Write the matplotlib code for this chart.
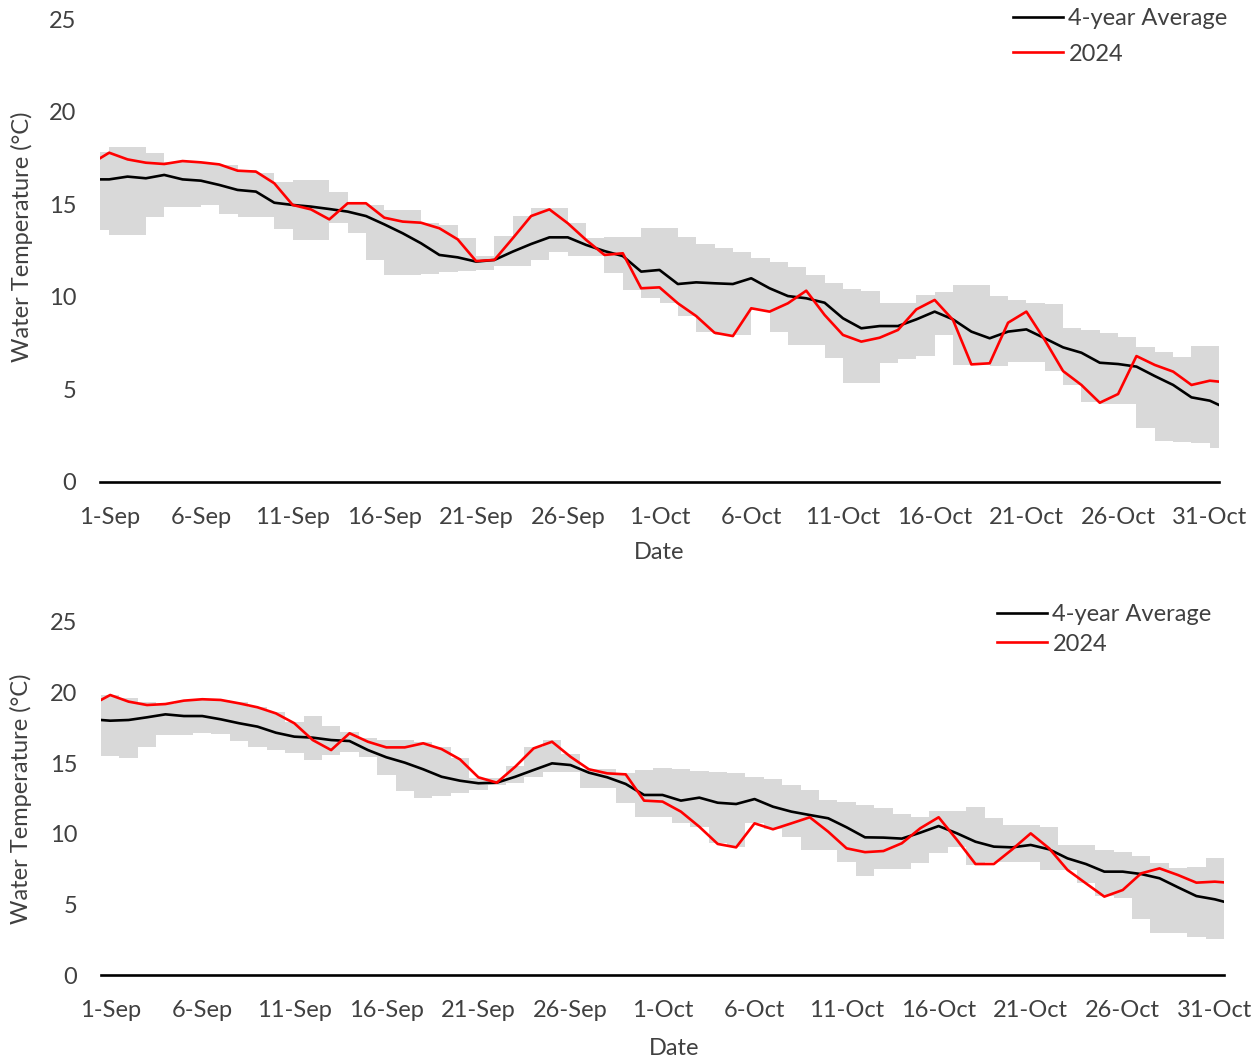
import numpy as np
import matplotlib
matplotlib.use("Agg")
import matplotlib.pyplot as plt

plt.rcParams["font.family"] = ["Lato", "DejaVu Sans"]

# day index: 0 = 1-Sep ... 60 = 31-Oct; -1 and 61 are neighbours clipped at the axis edges
days = np.arange(-1, 62)
tick_days = list(range(0, 61, 5))
tick_labels = ["1-Sep", "6-Sep", "11-Sep", "16-Sep", "21-Sep", "26-Sep", "1-Oct",
               "6-Oct", "11-Oct", "16-Oct", "21-Oct", "26-Oct", "31-Oct"]

# ---- upper site ----
avg_top = [16.34, 16.34, 16.49, 16.40, 16.58, 16.34, 16.27, 16.04, 15.77, 15.68, 15.08,
           14.96, 14.87, 14.74, 14.60, 14.36, 13.91, 13.43, 12.89, 12.26, 12.13, 11.90,
           11.99, 12.44, 12.85, 13.21, 13.21, 12.80, 12.47, 12.20, 11.36, 11.45, 10.69,
           10.78, 10.73, 10.69, 11.00, 10.46, 10.04, 9.92, 9.68, 8.84, 8.30, 8.42, 8.42,
           8.78, 9.20, 8.78, 8.12, 7.76, 8.12, 8.24, 7.76, 7.27, 6.98, 6.44, 6.37, 6.23,
           5.72, 5.24, 4.57, 4.39, 3.93]
y2024_top = [17.18, 17.78, 17.42, 17.24, 17.17, 17.33, 17.26, 17.15, 16.81, 16.76, 16.13,
             14.96, 14.72, 14.18, 15.05, 15.05, 14.27, 14.06, 14.00, 13.70, 13.10, 11.93,
             11.99, 13.16, 14.36, 14.72, 13.97, 13.07, 12.26, 12.35, 10.46, 10.51, 9.65,
             8.96, 8.06, 7.88, 9.38, 9.20, 9.65, 10.33, 9.02, 7.94, 7.58, 7.79, 8.21,
             9.32, 9.83, 8.75, 6.35, 6.41, 8.60, 9.20, 7.67, 5.99, 5.24, 4.28, 4.75, 6.80,
             6.32, 5.96, 5.24, 5.47, 5.37]
# range band, one step per day starting at day -1
band_days_top = np.arange(-1, 61)
band_hi_top = [17.8, 18.1, 18.1, 17.75, 17.3, 17.3, 17.25, 17.12, 16.85, 16.7, 16.2, 16.3,
               16.3, 15.68, 15.1, 14.96, 14.69, 14.69, 13.97, 13.88, 13.2, 12.2, 13.3,
               14.36, 14.78, 14.78, 13.97, 13.16, 13.25, 13.25, 13.7, 13.7, 13.25, 12.85,
               12.62, 12.44, 12.08, 11.9, 11.63, 11.18, 10.73, 10.4, 10.33, 9.68, 9.65,
               10.1, 10.28, 10.64, 10.64, 10.04, 9.83, 9.65, 9.59, 8.3, 8.21, 8.06, 7.85,
               7.31, 7.04, 6.73, 7.34, 7.34]
band_lo_top = [13.6, 13.34, 13.34, 14.29, 14.83, 14.83, 14.96, 14.47, 14.29, 14.29, 13.64,
               13.07, 13.07, 13.97, 13.46, 11.99, 11.18, 11.18, 11.23, 11.36, 11.41, 11.45,
               11.66, 11.66, 11.99, 12.44, 12.2, 12.2, 11.27, 10.37, 9.92, 9.65, 8.96, 8.12,
               7.94, 7.94, 9.29, 8.12, 7.4, 7.4, 6.68, 5.36, 5.36, 6.44, 6.62, 6.8, 7.94,
               6.32, 6.32, 6.26, 6.5, 6.5, 6.01, 5.24, 4.34, 4.21, 4.21, 2.9, 2.23, 2.18,
               2.09, 1.82]

# ---- lower site ----
avg_bot = [18.11, 18.01, 18.06, 18.25, 18.46, 18.34, 18.34, 18.11, 17.83, 17.59, 17.16,
           16.88, 16.81, 16.64, 16.57, 15.93, 15.42, 15.04, 14.57, 14.04, 13.76, 13.58,
           13.62, 14.04, 14.52, 14.99, 14.87, 14.33, 14.00, 13.53, 12.75, 12.75, 12.35,
           12.56, 12.20, 12.11, 12.46, 11.92, 11.57, 11.33, 11.10, 10.46, 9.75, 9.73,
           9.66, 10.08, 10.55, 10.03, 9.44, 9.09, 9.04, 9.21, 8.90, 8.26, 7.86, 7.32,
           7.32, 7.15, 6.85, 6.21, 5.59, 5.36, 5.02]
y2024_bot = [19.13, 19.83, 19.36, 19.12, 19.19, 19.43, 19.53, 19.48, 19.24, 18.96, 18.53,
             17.83, 16.64, 15.93, 17.12, 16.52, 16.12, 16.12, 16.41, 16.00, 15.27, 14.00,
             13.62, 14.75, 16.05, 16.52, 15.46, 14.57, 14.28, 14.21, 12.35, 12.28, 11.57,
             10.50, 9.28, 9.04, 10.74, 10.32, 10.74, 11.17, 10.15, 8.97, 8.70, 8.78, 9.33,
             10.39, 11.17, 9.56, 7.86, 7.86, 8.90, 10.03, 8.97, 7.44, 6.49, 5.55, 6.02,
             7.20, 7.55, 7.08, 6.54, 6.61, 6.51]
band_days_bot = np.arange(0, 61)
band_hi_bot = [19.8, 19.6, 19.3, 19.2, 19.4, 19.5, 19.5, 19.3, 19.0, 18.6, 17.9, 18.34,
               17.63, 17.23, 16.76, 16.64, 16.64, 16.52, 16.12, 15.34, 13.93, 13.93, 14.8,
               16.17, 16.64, 15.65, 14.57, 14.57, 14.28, 14.52, 14.64, 14.6, 14.47, 14.4,
               14.28, 14.04, 13.86, 13.46, 13.1, 12.39, 12.28, 12.04, 11.8, 11.4, 11.17,
               11.64, 11.64, 11.87, 11.1, 10.62, 10.62, 10.5, 9.21, 9.21, 8.85, 8.73, 8.43,
               7.95, 7.55, 7.67, 8.26]
band_lo_bot = [15.51, 15.34, 16.12, 17.0, 17.0, 17.12, 17.1, 16.6, 16.12, 15.93, 15.7,
               15.23, 15.58, 15.82, 15.42, 14.16, 13.05, 12.51, 12.68, 12.91, 13.1, 13.46,
               13.58, 14.04, 14.4, 14.4, 13.22, 13.22, 12.16, 11.21, 11.21, 10.74, 10.5,
               9.33, 9.04, 10.74, 10.32, 9.79, 8.85, 8.85, 8.02, 7.0, 7.48, 7.48, 7.91,
               8.62, 9.04, 7.79, 8.02, 8.02, 8.02, 7.44, 7.44, 6.49, 5.59, 5.43, 3.94, 3.0,
               3.0, 2.71, 2.53]

TEXT = "#404040"
FS = 17


def draw_panel(ax, band_days, lo, hi, align, avg, cur, legend_anchor, legend_spacing):
    lo = np.array(lo)
    hi = np.array(hi)
    ax.bar(band_days, hi - lo, bottom=lo, width=1.0, align=align,
           color="#d9d9d9", linewidth=0, zorder=1)
    ax.plot(days, avg, color="black", linewidth=1.9, label="4-year Average", zorder=3)
    ax.plot(days, cur, color="#ff0000", linewidth=1.9, label="2024", zorder=4)

    ax.set_xlim(-0.5, 60.5)
    ax.set_ylim(0, 25)
    ax.set_xticks(tick_days)
    ax.set_xticklabels(tick_labels)
    ax.set_yticks(range(0, 26, 5))
    for side in ("top", "right", "left"):
        ax.spines[side].set_visible(False)
    ax.spines["bottom"].set_linewidth(1.9)
    ax.spines["bottom"].set_color("black")
    ax.spines["bottom"].set_zorder(5)
    ax.tick_params(axis="both", length=0, labelsize=FS, labelcolor=TEXT)
    ax.tick_params(axis="x", pad=18)
    ax.tick_params(axis="y", pad=17)
    ax.set_xlabel("Date", fontsize=FS, color=TEXT)
    ax.set_ylabel("Water Temperature (°C)", fontsize=FS, color=TEXT)

    ax.legend(loc="upper left", bbox_to_anchor=legend_anchor,
              bbox_transform=ax.figure.transFigure, frameon=False, fontsize=FS,
              handlelength=2.1, handletextpad=0.25, labelspacing=legend_spacing,
              borderpad=0, borderaxespad=0, labelcolor=TEXT)


fig = plt.figure(figsize=(12.58, 10.63), dpi=100)
ax_top = fig.add_axes([100 / 1258, 1 - 482 / 1063, 1119 / 1258, 463 / 1063])
ax_bot = fig.add_axes([101 / 1258, 1 - 975 / 1063, 1123 / 1258, 353 / 1063])

draw_panel(ax_top, band_days_top, band_lo_top, band_hi_top, "edge",
           avg_top, y2024_top, (1013 / 1258, 1 - 8 / 1063), 0.62)
draw_panel(ax_bot, band_days_bot, band_lo_bot, band_hi_bot, "center",
           avg_bot, y2024_bot, (997 / 1258, 1 - 604 / 1063), 0.37)

ax_top.xaxis.set_label_coords(0.5, -0.13)
ax_top.yaxis.set_label_coords(-0.06, 0.53)
ax_bot.xaxis.set_label_coords(0.51, -0.178)
ax_bot.yaxis.set_label_coords(-0.061, 0.50)

fig.savefig("out.png", dpi=100)
